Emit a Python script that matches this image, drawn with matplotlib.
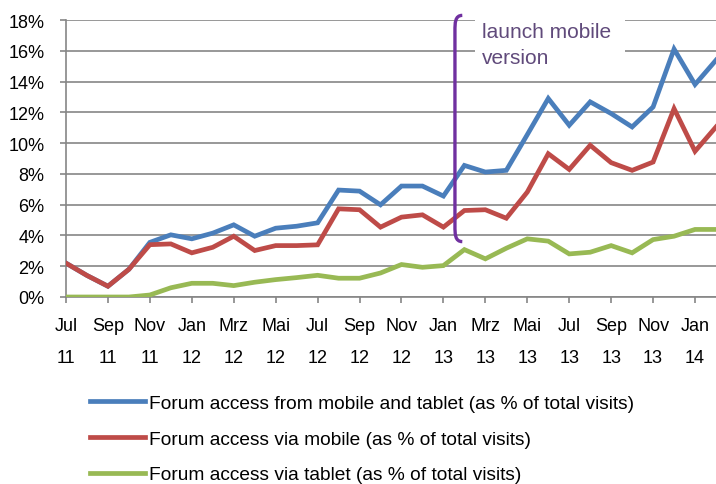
import numpy as np
import matplotlib
matplotlib.use('Agg')
import matplotlib.pyplot as plt
from matplotlib.path import Path
from matplotlib.patches import PathPatch, Rectangle
from matplotlib.ticker import PercentFormatter

plt.rcParams['font.family'] = ['Liberation Sans', 'DejaVu Sans']

# Monthly values Jul 2011 .. Feb 2014 (in %)
months = ['Jul', 'Aug', 'Sep', 'Okt', 'Nov', 'Dez',
          'Jan', 'Feb', 'Mrz', 'Apr', 'Mai', 'Jun',
          'Jul', 'Aug', 'Sep', 'Okt', 'Nov', 'Dez',
          'Jan', 'Feb', 'Mrz', 'Apr', 'Mai', 'Jun',
          'Jul', 'Aug', 'Sep', 'Okt', 'Nov', 'Dez',
          'Jan', 'Feb']
years = ['11'] * 6 + ['12'] * 12 + ['13'] * 12 + ['14'] * 2

mobile_tablet = [2.2, 1.4, 0.7, 1.8, 3.55, 4.04, 3.78, 4.15, 4.69, 3.95, 4.47, 4.6,
                 4.82, 6.95, 6.88, 5.99, 7.21, 7.21, 6.56, 8.55, 8.12, 8.23, 10.55, 12.9,
                 11.16, 12.68, 11.92, 11.05, 12.35, 16.11, 13.81, 15.39]
mobile = [2.2, 1.4, 0.7, 1.8, 3.4, 3.45, 2.87, 3.23, 3.95, 3.02, 3.34, 3.34,
          3.39, 5.73, 5.67, 4.54, 5.19, 5.34, 4.54, 5.62, 5.67, 5.12, 6.82, 9.31,
          8.29, 9.86, 8.73, 8.23, 8.77, 12.24, 9.47, 11.05]
tablet = [0.0, 0.0, 0.0, 0.0, 0.13, 0.6, 0.89, 0.89, 0.74, 0.96, 1.13, 1.26,
          1.41, 1.22, 1.22, 1.56, 2.11, 1.93, 2.04, 3.08, 2.48, 3.17, 3.78, 3.63,
          2.8, 2.91, 3.34, 2.87, 3.73, 3.95, 4.39, 4.39]

labels = ['Forum access from mobile and tablet (as % of total visits)',
          'Forum access via mobile (as % of total visits)',
          'Forum access via tablet (as % of total visits)']
colors = ['#4a7ebb', '#be4b48', '#98b954']

x = np.arange(len(months))

fig = plt.figure(figsize=(7.16, 4.85), dpi=100)
ax = fig.add_axes([66 / 716, 1 - 298 / 485, 1 - 66 / 716, (298 - 21) / 485])

grid_c = '#868686'
ax.set_ylim(0, 18)
ax.set_xlim(0, 31)
ax.set_yticks(np.arange(0, 19, 2))
ax.yaxis.set_major_formatter(PercentFormatter(decimals=0))
ax.grid(axis='y', color=grid_c, linewidth=1.2, zorder=0)
ax.set_axisbelow(True)
for s in ['top', 'right']:
    ax.spines[s].set_visible(False)
for s in ['left', 'bottom']:
    ax.spines[s].set_color(grid_c)
    ax.spines[s].set_linewidth(1.2)

ax.set_xticks(x[::2])
ax.set_xticklabels([m + '\n' + y for m, y in zip(months[::2], years[::2])],
                   linespacing=2.15)
ax.tick_params(axis='both', colors=grid_c, labelcolor='black', labelsize=13,
               length=4.5, width=1.2)
ax.tick_params(axis='x', pad=10)
ax.tick_params(axis='y', pad=11)

for vals, lab, c in zip([mobile_tablet, mobile, tablet], labels, colors):
    ax.plot(x, vals, color=c, linewidth=3.4, label=lab, zorder=3,
            solid_joinstyle='miter')

# annotation: launch of mobile version
bx, top, bot, cw = 18.55, 18.3, 3.6, 0.35
verts = [(bx + cw, top), (bx, top), (bx, top - 0.5), (bx, top - 1.0),
         (bx, bot + 1.0), (bx, bot + 0.5), (bx, bot), (bx + cw, bot)]
codes = [Path.MOVETO, Path.CURVE4, Path.CURVE4, Path.CURVE4,
         Path.LINETO, Path.CURVE4, Path.CURVE4, Path.CURVE4]
ax.add_patch(PathPatch(Path(verts, codes), facecolor='none', edgecolor='#7030a0',
                       linewidth=2.4, clip_on=False, zorder=4))
ax.add_patch(Rectangle((19.5, 14.6), 7.15, 4.0, facecolor='white', edgecolor='none',
                       clip_on=False, zorder=2))
ax.text(19.85, 17.9, 'launch mobile\nversion', color='#604a7b', fontsize=15,
        va='top', ha='left', linespacing=1.5, zorder=5)

fig.legend(loc='upper left', bbox_to_anchor=(82 / 716, 1 - 388 / 485), frameon=False,
           fontsize=13.8, handlelength=2.9, handletextpad=0.2, labelspacing=0.95,
           borderaxespad=0)

fig.savefig('out.png', dpi=100)
